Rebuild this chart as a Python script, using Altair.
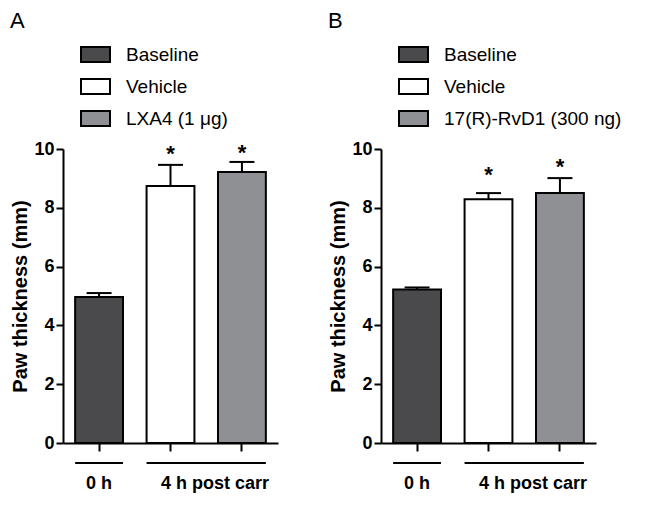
import altair as alt
import pandas as pd

# ---------------- data ----------------
a_groups = ["Baseline", "Vehicle", "LXA4 (1 μg)"]
a_means = [4.97, 8.74, 9.22]
a_upper = [5.10, 9.46, 9.56]
a_star_y = [9.97, 10.0]          # asterisks over Vehicle and LXA4

b_groups = ["Baseline", "Vehicle", "17(R)-RvD1 (300 ng)"]
b_means = [5.22, 8.29, 8.50]
b_upper = [5.29, 8.50, 9.01]
b_star_y = [9.25, 9.52]          # asterisks over Vehicle and RvD1

time_labels = ["0 h", "4 h post carr"]
fills = ["#4a4a4c", "#ffffff", "#8f9093"]
y_ticks = [0, 2, 4, 6, 8, 10]

# ---------------- layout / style ----------------
W, H = 215, 294
PI, PO = 0.33, 0.17
FONT = "Liberation Sans"
RECT = "M-1,-0.52H1V0.52H-1Z"


def panel(letter, groups, means, upper, star_y):
    df = pd.DataFrame({"group": groups, "mean": means, "upper": upper})
    stars = pd.DataFrame({"group": groups[1:], "y": star_y, "t": ["*", "*"]})
    spans = pd.DataFrame({"label": time_labels,
                          "start": [groups[0], groups[1]],
                          "end": [groups[0], groups[2]],
                          "last": [groups[0], groups[2]]})
    lab0 = spans.iloc[[0]]
    lab1 = spans.iloc[[1]]

    xscale = alt.Scale(domain=groups, paddingInner=PI, paddingOuter=PO)
    xaxis = alt.Axis(labels=False, title=None, domainWidth=2, tickWidth=2,
                     tickSize=8, domainColor="black", tickColor="black",
                     grid=False)
    yscale = alt.Scale(domain=[0, 10], nice=False)
    yaxis = alt.Axis(values=y_ticks, title="Paw thickness (mm)", grid=False,
                     domainWidth=2, tickWidth=2, tickSize=7,
                     domainColor="black", tickColor="black",
                     labelFont=FONT, labelFontSize=18, labelFontWeight="bold",
                     labelColor="black", labelPadding=2,
                     titleFont=FONT, titleFontSize=20, titleFontWeight="bold",
                     titleColor="black", titlePadding=3)
    TITLE = "Paw thickness (mm)"

    def X(f, **kw):
        return alt.X(f"{f}:N", scale=xscale, axis=xaxis, **kw)

    def Y(f):
        return alt.Y(f"{f}:Q", scale=yscale, axis=yaxis, title=TITLE)

    bars = alt.Chart(df).mark_bar(stroke="black", strokeWidth=2).encode(
        x=X("group"), y=Y("mean"),
        fill=alt.Fill("group:N", scale=alt.Scale(domain=groups, range=fills),
                      legend=alt.Legend(title=None, orient="none",
                                        legendX=17, legendY=-110,
                                        symbolType=RECT, symbolSize=841,
                                        symbolStrokeColor="black",
                                        symbolStrokeWidth=2, symbolOpacity=1,
                                        labelFont=FONT, labelFontSize=19,
                                        labelColor="black", labelOffset=15,
                                        rowPadding=4, labelLimit=300)))
    stem = alt.Chart(df).mark_rule(color="black", strokeWidth=2).encode(
        x=X("group"), y=Y("mean"), y2="upper:Q")
    cap = alt.Chart(df).mark_tick(color="black", thickness=2, size=25,
                                  opacity=1).encode(x=X("group"), y=Y("upper"))
    star = alt.Chart(stars).mark_text(font=FONT, fontSize=22, fontWeight="bold",
                                      baseline="alphabetic", dy=11,
                                      color="black").encode(
        x=X("group"), y=Y("y"), text="t:N")
    lines = alt.Chart(spans).mark_rule(color="black", strokeWidth=2).encode(
        x=X("start", bandPosition=0), x2=alt.X2("end:N", bandPosition=1),
        y=alt.value(H + 20))
    t0 = alt.Chart(lab0).mark_text(font=FONT, fontSize=18, fontWeight="bold",
                                   baseline="middle", color="black").encode(
        x=X("start", bandPosition=0.5), y=alt.value(H + 41), text="label:N")
    # centred in the gap between the 2nd and 3rd bars (left edge of 3rd bar - half gap)
    t1 = alt.Chart(lab1).mark_text(font=FONT, fontSize=18, fontWeight="bold",
                                   baseline="middle", color="black", dx=-3).encode(
        x=X("last", bandPosition=0), y=alt.value(H + 41), text="label:N")

    return alt.layer(bars, stem, cap, star, lines, t0, t1).properties(
        width=W, height=H,
        title=alt.TitleParams(letter, anchor="start", font=FONT, fontSize=22,
                              fontWeight="normal", color="black", dx=-1,
                              offset=6))


chart = alt.hconcat(
    panel("A", a_groups, a_means, a_upper, a_star_y),
    panel("B", b_groups, b_means, b_upper, b_star_y),
    spacing=49,
).resolve_scale(x="independent", y="independent", fill="independent"
).properties(padding={"left": 1, "top": 2, "right": 1, "bottom": 1}
).configure_view(stroke=None)

chart.save("out.html", embed_options={"renderer": "svg", "actions": False})
